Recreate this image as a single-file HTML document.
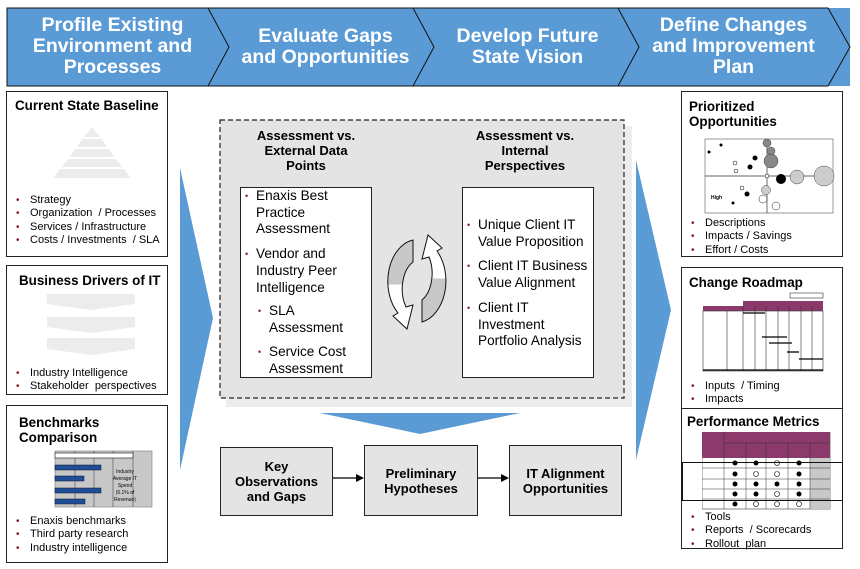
<!DOCTYPE html>
<html><head><meta charset="utf-8"><style>
*{margin:0;padding:0;box-sizing:border-box}
body{width:860px;height:569px;background:#fff;position:relative;overflow:hidden;font-family:"Liberation Sans",Arial,sans-serif;color:#000}
.a{position:absolute}
.hd{position:absolute;color:#fff;font-weight:bold;font-size:19.5px;line-height:21px;text-align:center}
.box{position:absolute;border:1.5px solid #222;background:#fff}
.ttl{position:absolute;font-weight:bold;font-size:13.4px;line-height:15px;white-space:nowrap}
.ct{position:absolute;font-weight:bold;font-size:13px;line-height:15px}
ul{list-style:none;position:absolute}
li{position:relative;padding-left:14px;font-size:11px;line-height:13.4px}
li:before{content:"•";color:#8b1a1a;position:absolute;left:0;font-size:10px}
.c li{font-size:13.6px;line-height:16.7px;padding-left:13px}
.c li:before{font-size:9px;left:2px}
.gb{position:absolute;background:#e4e4e4;border:1.5px solid #222;font-weight:bold;font-size:13px;line-height:15px;text-align:center;display:flex;align-items:center;justify-content:center}
</style></head><body>
<svg class="a" style="left:0;top:0" width="860" height="569">
<defs>
<linearGradient id="g1" x1="0" y1="0" x2="0" y2="1"><stop offset="0.5" stop-color="#c8c8c8"/><stop offset="0.5" stop-color="#fff"/></linearGradient>
<linearGradient id="g2" x1="0" y1="0" x2="0" y2="1"><stop offset="0.5" stop-color="#fff"/><stop offset="0.5" stop-color="#c8c8c8"/></linearGradient>
</defs>
<rect x="7" y="8" width="843" height="78" fill="#5b9bd5"/>
<polyline points="208,8 229,47 208,86" fill="none" stroke="#111" stroke-width="1"/>
<polyline points="413,8 434,47 413,86" fill="none" stroke="#111" stroke-width="1"/>
<polyline points="618,8 639,47 618,86" fill="none" stroke="#111" stroke-width="1"/>
<polygon points="7,8 828,8 850,47 828,86 7,86" fill="none" stroke="#111" stroke-width="1"/>
<polygon points="180,168 213,318 180,470" fill="#5b9bd5"/>
<polygon points="636,160 671,310 636,460" fill="#5b9bd5"/>
<rect x="226" y="126" width="406" height="281" fill="#ececec"/>
<rect x="220" y="120" width="404" height="278" fill="#e4e4e4" stroke="#222" stroke-width="1.2" stroke-dasharray="5,3"/>
<polygon points="320,413 520,413 420,434" fill="#5b9bd5"/>
<line x1="333" y1="478" x2="358" y2="478" stroke="#000" stroke-width="1.3"/>
<polygon points="364,478 356,474 356,482"/>
<line x1="478" y1="478" x2="503" y2="478" stroke="#000" stroke-width="1.3"/>
<polygon points="509,478 501,474 501,482"/>
<path d="M413,240 A30,42 0 0 0 398,313 L393,316 L407,329 L413,305 L406,307 A19,30 0 0 1 413,262 Z" fill="url(#g1)" stroke="#111" stroke-width="1"/>
<path d="M422,322 A30,42 0 0 0 437,251 L442,248 L428,235 L422,259 L429,257 A19,30 0 0 1 422,300 Z" fill="url(#g2)" stroke="#111" stroke-width="1"/>
</svg>

<div class="hd" style="left:10px;top:15px;width:205px">Profile Existing<br>Environment and<br>Processes</div>
<div class="hd" style="left:228px;top:26px;width:195px">Evaluate Gaps<br>and Opportunities</div>
<div class="hd" style="left:430px;top:26px;width:195px">Develop Future<br>State Vision</div>
<div class="hd" style="left:636px;top:15px;width:195px">Define Changes<br>and Improvement<br>Plan</div>

<div class="box" style="left:6px;top:91px;width:162px;height:166px">
<div class="ttl" style="left:8px;top:6px">Current State Baseline</div>
<svg class="a" style="left:40px;top:35px" width="90" height="55">
<polygon points="45,0 53,10 37,10" fill="#ececec"/><polygon points="35,12 55,12 60,20 30,20" fill="#ececec"/>
<polygon points="28,22 62,22 67,30 23,30" fill="#ececec"/><polygon points="21,32 69,32 75,40 15,40" fill="#ececec"/>
<polygon points="13,42 77,42 84,51 6,51" fill="#ececec"/>
</svg>
<ul style="left:9px;top:102px"><li>Strategy</li><li>Organization&nbsp; / Processes</li><li>Services / Infrastructure</li><li>Costs / Investments&nbsp; / SLA</li></ul>
</div>
<div class="box" style="left:6px;top:265px;width:162px;height:130px">
<div class="ttl" style="left:12px;top:7px">Business Drivers of IT</div>
<svg class="a" style="left:40px;top:26px" width="95" height="65">
<polygon points="0,2 88,2 88,12 44,18 0,12" fill="#ececec"/>
<polygon points="0,25 88,25 88,35 44,41 0,35" fill="#ececec"/>
<polygon points="0,46 88,46 88,57 44,63 0,57" fill="#ececec"/>
</svg>
<ul style="left:9px;top:101px"><li>Industry Intelligence</li><li>Stakeholder&nbsp; perspectives</li></ul>
</div>
<div class="box" style="left:6px;top:405px;width:162px;height:158px">
<div class="ttl" style="left:12px;top:9px">Benchmarks<br>Comparison</div>
<svg class="a" style="left:40px;top:43px" width="110" height="62">
<rect x="8" y="2" width="97" height="56" fill="#c8c8c8" stroke="#666" stroke-width=".5"/>
<line x1="28" y1="2" x2="28" y2="58" stroke="#333" stroke-width=".5"/><line x1="47" y1="2" x2="47" y2="58" stroke="#333" stroke-width=".5"/><line x1="66" y1="2" x2="66" y2="58" stroke="#333" stroke-width=".5"/><line x1="86" y1="2" x2="86" y2="58" stroke="#333" stroke-width=".5"/>
<rect x="8" y="4" width="78" height="5" fill="#fff" stroke="#333" stroke-width=".7"/>
<rect x="8" y="16" width="46" height="5" fill="#1f4e99" stroke="#112" stroke-width=".5"/>
<rect x="8" y="27" width="29" height="5" fill="#1f4e99" stroke="#112" stroke-width=".5"/>
<rect x="8" y="39" width="46" height="5" fill="#1f4e99" stroke="#112" stroke-width=".5"/>
<rect x="8" y="50" width="30" height="5" fill="#1f4e99" stroke="#112" stroke-width=".5"/>
<text x="78" y="24" font-size="5" text-anchor="middle" font-family="Liberation Sans">Industry</text>
<text x="78" y="31" font-size="5" text-anchor="middle" font-family="Liberation Sans">Average IT</text>
<text x="78" y="38" font-size="5" text-anchor="middle" font-family="Liberation Sans">Spend</text>
<text x="78" y="45" font-size="5" text-anchor="middle" font-family="Liberation Sans">(6.1% of</text>
<text x="78" y="52" font-size="5" text-anchor="middle" font-family="Liberation Sans">Revenue)</text>
</svg>
<ul style="left:9px;top:109px"><li>Enaxis benchmarks</li><li>Third party research</li><li>Industry intelligence</li></ul>
</div>

<div class="ct" style="left:236px;top:128px;width:140px;text-align:center">Assessment vs.<br>External Data<br>Points</div>
<div class="ct" style="left:455px;top:128px;width:140px;text-align:center">Assessment vs.<br>Internal<br>Perspectives</div>
<div class="box c" style="left:240px;top:187px;width:132px;height:191px;border-width:1.2px;overflow:hidden">
<ul style="left:2px;top:0px;width:125px"><li>Enaxis Best Practice Assessment</li><li style="margin-top:8px">Vendor and Industry Peer Intelligence</li></ul>
<ul style="left:15px;top:115px;width:100px"><li>SLA Assessment</li><li style="margin-top:8px">Service Cost Assessment</li></ul>
</div>
<div class="box c" style="left:462px;top:187px;width:132px;height:191px;border-width:1.2px">
<ul style="left:2px;top:29px;width:130px"><li>Unique Client IT Value Proposition</li><li style="margin-top:8px">Client IT Business Value Alignment</li><li style="margin-top:8px">Client IT Investment Portfolio Analysis</li></ul>
</div>
<div class="gb" style="left:220px;top:447px;width:113px;height:69px">Key<br>Observations<br>and Gaps</div>
<div class="gb" style="left:364px;top:445px;width:114px;height:71px">Preliminary<br>Hypotheses</div>
<div class="gb" style="left:509px;top:445px;width:113px;height:71px">IT Alignment<br>Opportunities</div>

<div class="box" style="left:681px;top:91px;width:162px;height:166px">
<div class="ttl" style="left:7px;top:7px">Prioritized<br>Opportunities</div>
<svg class="a" style="left:21px;top:45px" width="132" height="80">
<rect x="2" y="2" width="128" height="74" fill="#fff" stroke="#555" stroke-width=".6"/>
<line x1="2" y1="39" x2="130" y2="39" stroke="#333" stroke-width=".7"/><line x1="64" y1="2" x2="64" y2="76" stroke="#333" stroke-width=".7"/>
<circle cx="64" cy="6" r="4" fill="#888" stroke="#222" stroke-width=".4"/><circle cx="68" cy="14" r="4" fill="#888" stroke="#222" stroke-width=".4"/>
<circle cx="68" cy="24" r="7" fill="#888" stroke="#222" stroke-width=".4"/><circle cx="52" cy="21" r="2.5" fill="#000"/>
<circle cx="32" cy="26" r="2" fill="#fff" stroke="#000" stroke-width=".5"/><circle cx="33" cy="34" r="2" fill="#fff" stroke="#000" stroke-width=".5"/>
<circle cx="47" cy="30" r="2.5" fill="#000"/><circle cx="64" cy="39" r="2" fill="#fff" stroke="#000" stroke-width=".5"/>
<circle cx="78" cy="42" r="5" fill="#000"/><circle cx="94" cy="40" r="7" fill="#ccc" stroke="#222" stroke-width=".4"/>
<circle cx="121" cy="39" r="10" fill="#ccc" stroke="#222" stroke-width=".4"/><circle cx="63" cy="53" r="4.5" fill="#ccc" stroke="#222" stroke-width=".4"/>
<circle cx="60" cy="62" r="4" fill="#fff" stroke="#222" stroke-width=".5"/><circle cx="73" cy="69" r="4" fill="#fff" stroke="#222" stroke-width=".5"/>
<circle cx="39" cy="51" r="2" fill="#fff" stroke="#000" stroke-width=".5"/><circle cx="44" cy="57" r="2.5" fill="#000"/>
<circle cx="30" cy="66" r="1.5" fill="#000"/><circle cx="6" cy="15" r="1.5" fill="#000"/><circle cx="18" cy="8" r="1.5" fill="#000"/>
<text x="8" y="62" font-size="5" font-weight="bold" font-family="Liberation Sans">High</text>
</svg>
<ul style="left:9px;top:125px"><li>Descriptions</li><li>Impacts / Savings</li><li>Effort / Costs</li></ul>
</div>
<div class="box" style="left:681px;top:267px;width:162px;height:142px">
<div class="ttl" style="left:7px;top:7px">Change Roadmap</div>
<svg class="a" style="left:20px;top:24px" width="140" height="85">
<rect x="88" y="1" width="33" height="5" fill="#fff" stroke="#333" stroke-width=".6"/>
<rect x="41" y="9" width="80" height="5" fill="#8b3a6b"/>
<rect x="1" y="14" width="120" height="5" fill="#8b3a6b"/>
<rect x="1" y="19" width="120" height="60" fill="#fff" stroke="#333" stroke-width=".6"/>
<g stroke="#333" stroke-width=".6"><line x1="25" y1="19" x2="25" y2="79"/><line x1="41" y1="14" x2="41" y2="79"/><line x1="53" y1="14" x2="53" y2="79"/><line x1="64" y1="14" x2="64" y2="79"/><line x1="76" y1="14" x2="76" y2="79"/><line x1="87" y1="14" x2="87" y2="79"/><line x1="99" y1="14" x2="99" y2="79"/><line x1="110" y1="14" x2="110" y2="79"/></g>
<g stroke="#000" stroke-width="1.3"><line x1="41" y1="21" x2="63" y2="21"/><line x1="60" y1="45" x2="85" y2="45"/><line x1="67" y1="51" x2="90" y2="51"/><line x1="85" y1="60" x2="97" y2="60"/><line x1="97" y1="67" x2="121" y2="67"/><line x1="1" y1="78" x2="121" y2="78"/></g>
</svg>
<ul style="left:9px;top:112px"><li>Inputs&nbsp; / Timing</li><li>Impacts</li></ul>
</div>
<div class="box" style="left:681px;top:408px;width:162px;height:141px">
<div class="ttl" style="left:5px;top:5px">Performance Metrics</div>
<svg class="a" style="left:20px;top:23px" width="132" height="80">
<rect x="0" y="0" width="128" height="77" fill="#fff" stroke="#333" stroke-width=".6"/>
<rect x="0" y="0" width="128" height="26" fill="#8b3a6b"/>
<rect x="108" y="26" width="20" height="51" fill="#c8c8c8"/>
<g stroke="#333" stroke-width=".5"><line x1="22" y1="11" x2="128" y2="11"/><line x1="22" y1="0" x2="22" y2="77"/><line x1="44" y1="11" x2="44" y2="77"/><line x1="64" y1="11" x2="64" y2="77"/><line x1="86" y1="11" x2="86" y2="77"/><line x1="108" y1="11" x2="108" y2="77"/>
<line x1="0" y1="36" x2="128" y2="36"/><line x1="0" y1="47" x2="128" y2="47"/><line x1="0" y1="57" x2="128" y2="57"/><line x1="0" y1="67" x2="128" y2="67"/></g>
<g fill="#000"><circle cx="33" cy="31" r="2.5"/><circle cx="54" cy="31" r="2.5"/><circle cx="97" cy="31" r="2.5"/><circle cx="33" cy="42" r="2.5"/><circle cx="97" cy="42" r="2.5"/><circle cx="33" cy="52" r="2.5"/><circle cx="54" cy="52" r="2.5"/><circle cx="75" cy="52" r="2.5"/><circle cx="97" cy="52" r="2.5"/><circle cx="33" cy="62" r="2.5"/><circle cx="54" cy="62" r="2.5"/><circle cx="97" cy="62" r="2.5"/><circle cx="33" cy="72" r="2.5"/></g>
<g fill="#fff" stroke="#000" stroke-width=".6"><circle cx="75" cy="31" r="2.5"/><circle cx="54" cy="42" r="2.5"/><circle cx="75" cy="42" r="2.5"/><circle cx="75" cy="62" r="2.5"/><circle cx="54" cy="72" r="2.5"/><circle cx="75" cy="72" r="2.5"/><circle cx="97" cy="72" r="2.5"/></g>
</svg>
<div class="a" style="left:0px;top:53px;width:161px;height:39px;border:1.5px solid #111"></div>
<ul style="left:9px;top:102px"><li>Tools</li><li>Reports&nbsp; / Scorecards</li><li>Rollout&nbsp; plan</li></ul>
</div>
</body></html>
